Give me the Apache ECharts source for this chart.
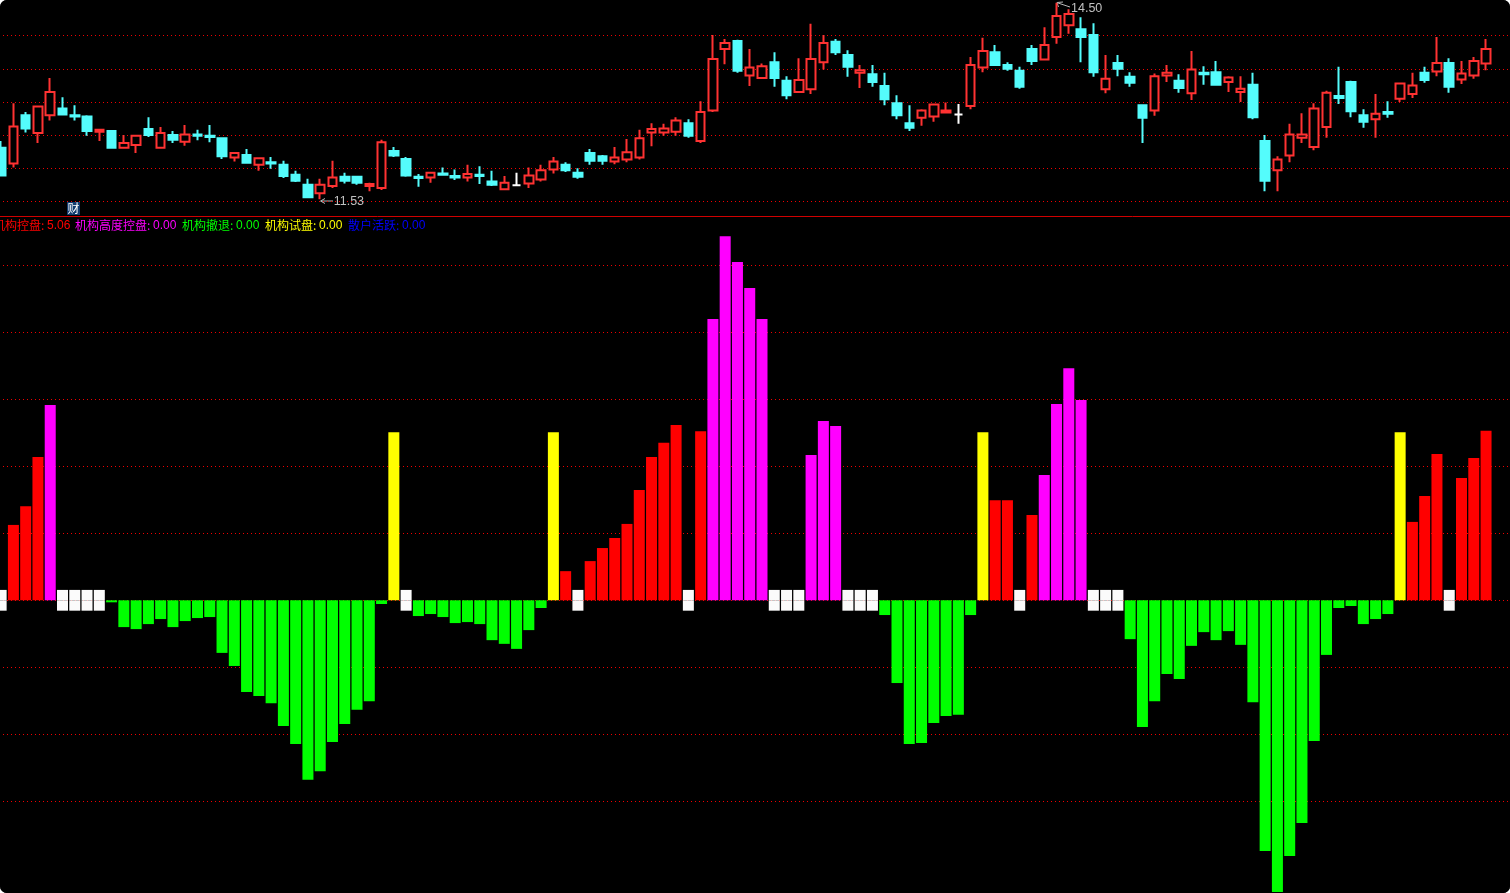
<!DOCTYPE html>
<html>
<head>
<meta charset="utf-8">
<style>
html,body{margin:0;padding:0;background:#fff;overflow:hidden}
#chart{width:1510px;height:893px;background:#000;border-radius:7px;overflow:hidden}
</style>
<script src="https://cdn.jsdelivr.net/npm/echarts@6/dist/echarts.min.js"></script>
</head>
<body>
<div id="chart"></div>
<script>
const opens = [12.31,12.07,12.80,12.53,12.80,12.90,12.80,12.78,12.55,12.56,
12.31,12.35,12.59,12.31,12.50,12.40,12.51,12.49,12.45,12.16,
12.20,12.05,12.09,12.05,11.90,11.75,11.62,11.73,11.87,11.87,
11.73,11.70,12.26,12.14,11.87,11.86,11.92,11.88,11.86,11.90,
11.80,11.68,11.74,11.77,11.83,11.98,12.05,11.93,12.23,12.18,
12.10,12.13,12.16,12.54,12.54,12.55,12.68,12.41,12.87,13.80,
13.92,13.40,13.36,13.60,13.32,13.15,13.19,13.60,13.91,13.71,
13.44,13.42,13.24,12.98,12.68,12.76,12.78,12.84,12.81,12.94,
13.52,13.75,13.56,13.47,13.80,13.64,13.98,14.16,14.10,14.01,
13.19,13.59,13.38,12.95,12.87,13.40,13.32,13.13,13.44,13.45,
13.30,13.15,13.26,12.41,11.97,12.19,12.46,12.32,12.62,13.09,
13.30,12.80,12.74,12.85,13.05,13.12,13.44,13.46,13.59,13.34,
13.40,13.58];
const closes = [11.89,12.63,12.60,12.93,13.15,12.81,12.78,12.56,12.58,12.31,
12.38,12.49,12.50,12.53,12.43,12.51,12.49,12.47,12.18,12.23,
12.08,12.15,12.07,11.88,11.81,11.56,11.75,11.86,11.81,11.78,
11.76,12.39,12.19,11.89,11.85,11.93,11.90,11.86,11.91,11.88,
11.75,11.78,11.74,11.89,11.97,12.10,11.97,11.87,12.11,12.11,
12.16,12.24,12.45,12.59,12.60,12.72,12.49,12.85,13.65,13.89,
13.47,13.52,13.54,13.36,13.10,13.33,13.65,13.89,13.75,13.53,
13.48,13.30,13.04,12.80,12.61,12.87,12.96,12.87,12.81,13.56,
13.77,13.56,13.50,13.23,13.62,13.86,14.30,14.33,13.98,13.45,
13.35,13.50,13.29,12.76,13.39,13.44,13.21,13.49,13.42,13.26,
13.37,13.20,12.77,11.81,12.13,12.51,12.51,12.90,13.14,13.06,
12.86,12.70,12.82,12.82,13.28,13.25,13.33,13.59,13.23,13.43,
13.62,13.80];
const lows = [11.88,12.01,12.54,12.38,12.72,12.81,12.72,12.49,12.41,12.30,
12.31,12.23,12.47,12.31,12.38,12.34,12.42,12.39,12.14,12.10,
12.08,11.96,11.99,11.85,11.79,11.56,11.53,11.70,11.77,11.75,
11.65,11.67,12.17,11.87,11.72,11.78,11.90,11.82,11.80,11.76,
11.73,11.68,11.74,11.70,11.80,11.92,11.94,11.84,12.05,12.05,
12.06,12.09,12.13,12.33,12.49,12.49,12.46,12.38,12.85,13.57,
13.44,13.24,13.36,13.23,13.04,13.15,13.12,13.49,13.71,13.38,
13.21,13.23,12.95,12.74,12.56,12.64,12.70,12.84,12.67,12.89,
13.45,13.56,13.47,13.20,13.56,13.64,13.88,14.03,13.60,13.38,
13.13,13.39,13.23,12.38,12.79,13.30,13.14,13.03,13.26,13.26,
13.15,13.00,12.74,11.65,11.65,12.09,12.38,12.27,12.46,12.97,
12.77,12.61,12.46,12.76,13.00,13.06,13.29,13.39,13.14,13.27,
13.35,13.48];
const highs = [12.41,12.98,12.85,12.93,13.36,13.07,12.95,12.80,12.59,12.56,
12.50,12.49,12.77,12.62,12.56,12.65,12.58,12.65,12.45,12.23,
12.29,12.16,12.17,12.11,11.96,11.84,11.84,12.11,11.93,11.87,
11.78,12.43,12.32,12.17,11.91,11.93,12.01,11.98,12.05,12.03,
11.96,11.88,11.93,12.01,12.05,12.17,12.09,12.00,12.29,12.20,
12.32,12.44,12.58,12.68,12.67,12.77,12.74,13.01,14.01,13.95,
13.94,13.80,13.58,13.75,13.39,13.66,14.18,14.01,13.95,13.78,
13.56,13.56,13.44,13.10,12.95,12.89,12.97,12.99,12.97,13.68,
13.97,13.86,13.60,13.53,13.86,14.13,14.50,14.40,14.28,14.19,
13.71,13.71,13.45,12.95,13.43,13.56,13.42,13.77,13.54,13.62,
13.39,13.39,13.44,12.50,12.18,12.67,12.83,12.98,13.17,13.53,
13.32,12.89,13.12,13.01,13.28,13.44,13.53,13.98,13.66,13.62,
13.68,13.95];
const whiteCandles = [42, 78];
const priceTicks = [11.5,12,12.5,13,13.5,14];
const flowTicks = [-6,-4,-2,0,2,4,6,8,10];

const flowValues = [0.31,2.25,2.81,4.28,5.83,0.31,0.31,0.31,0.31,-0.06,
-0.80,-0.86,-0.71,-0.56,-0.80,-0.62,-0.53,-0.50,-1.57,-1.96,
-2.74,-2.86,-3.07,-3.75,-4.29,-5.36,-5.10,-4.23,-3.69,-3.27,
-3.01,-0.11,5.02,0.31,-0.47,-0.41,-0.50,-0.68,-0.65,-0.71,
-1.19,-1.30,-1.45,-0.89,-0.23,5.02,0.87,0.31,1.17,1.56,
1.86,2.28,3.29,4.28,4.70,5.23,0.31,5.05,8.40,10.87,
10.10,9.32,8.40,0.31,0.31,0.31,4.34,5.35,5.20,0.31,
0.31,0.31,-0.44,-2.47,-4.29,-4.26,-3.66,-3.45,-3.42,-0.44,
5.02,2.99,2.99,0.31,2.55,3.74,5.86,6.93,5.98,0.31,
0.31,0.31,-1.16,-3.78,-3.01,-2.20,-2.35,-1.36,-0.95,-1.19,
-0.92,-1.33,-3.04,-7.48,-8.71,-7.63,-6.65,-4.20,-1.63,-0.23,
-0.17,-0.71,-0.56,-0.41,5.02,2.34,3.11,4.37,0.31,3.65,
4.25,5.06];
// r 机构控盘, m 机构高度控盘, g 机构撤退, y 机构试盘, w neutral
const flowKinds = ("wrrrmwwwwg"+"gggggggggg"+"gggggggggg"+"ggywgggggg"+"gggggyrwrr"+
"rrrrrrwrmm"+"mmmwwwmmmw"+"wwgggggggg"+"yrrwrmmmmw"+"wwgggggggg"+
"gggggggggg"+"ggggyrrrwr"+"rr").split("");

const legendNames = ["机构控盘","机构高度控盘","机构撤退","机构试盘","散户活跃"];
const legendValues = ["5.06","0.00","0.00","0.00","0.00"];
const legendColors = ["#ff0000","#ff00ff","#00ff00","#ffff00","#0000ff"];
const highMark = {index:86, value:14.50};
const lowMark = {index:26, value:11.53};

const RED="#ff3232", CYAN="#54fcfc", DOT="#f00000";
const slot = 12.272, gridLeft = -5, slots = 124;
const cats = Array.from({length:slots},(_,i)=>String(i));

const candleData = opens.map((o,i)=>{
  const item = {value:[o,closes[i],lows[i],highs[i]]};
  if (whiteCandles.includes(i)) item.itemStyle = {color:"#fff",color0:"#fff",borderColor:"#fff",borderColor0:"#fff"};
  return item;
});
const bar = (kind,color,sign)=>({
  type:"bar",xAxisIndex:1,yAxisIndex:1,barWidth:11,barGap:"-100%",z:3,silent:true,animation:false,
  itemStyle:{color},
  data:flowValues.map((v,i)=>flowKinds[i]===kind?v*sign:null)
});

// legend strip
const legendX = [[-7,47],[75,153],[182,236],[265,319],[348,402]];
const graphics = [
  {type:"line",shape:{x1:0,y1:216.5,x2:1510,y2:216.5},style:{stroke:"#d00000",lineWidth:1},silent:true},
  {type:"rect",shape:{x:67,y:202,width:13,height:13},style:{fill:"#123c6e"},silent:true},
  {type:"text",x:73.5,y:208.5,z:5,style:{text:"财",fill:"#ffffff",font:'12px "Noto Sans CJK SC"',align:"center",verticalAlign:"middle"},silent:true},
  {type:"polyline",shape:{points:[[321,201],[333,201]]},style:{stroke:"#b8b8b8",lineWidth:1,fill:null},silent:true},
  {type:"polyline",shape:{points:[[325,198.5],[320.5,201],[325,203.5]]},style:{stroke:"#b8b8b8",lineWidth:1,fill:null},silent:true},
  {type:"polyline",shape:{points:[[1058,3],[1070,7]]},style:{stroke:"#b8b8b8",lineWidth:1,fill:null},silent:true},
  {type:"polyline",shape:{points:[[1063,2],[1057,2.5],[1058.5,7]]},style:{stroke:"#b8b8b8",lineWidth:1,fill:null},silent:true}
];
legendNames.forEach((n,i)=>{
  graphics.push({type:"text",x:legendX[i][0],y:225,style:{text:n+":",fill:legendColors[i],font:'12px "Noto Sans CJK SC"',verticalAlign:"middle"},silent:true});
  graphics.push({type:"text",x:legendX[i][1],y:226,style:{text:legendValues[i],fill:legendColors[i],font:'12px "Liberation Sans"',verticalAlign:"middle"},silent:true});
});

const chart = echarts.init(document.getElementById("chart"),null,{renderer:"canvas"});
chart.setOption({
  backgroundColor:"#000",
  animation:false,
  graphic:graphics,
  grid:[
    {left:gridLeft,width:slot*slots,top:0,height:234.35,outerBoundsMode:"none"},
    {left:gridLeft,width:slot*slots,top:218.4,height:676.7,outerBoundsMode:"none"}
  ],
  xAxis:[
    {type:"category",gridIndex:0,data:cats,show:false,boundaryGap:true},
    {type:"category",gridIndex:1,data:cats,show:false,boundaryGap:true}
  ],
  yAxis:[
    {type:"value",gridIndex:0,min:11,max:14.54,scale:true,axisLine:{show:false},axisLabel:{show:false},
     axisTick:{show:false,customValues:priceTicks},
     splitLine:{show:true,lineStyle:{color:DOT,width:1,type:[1,3],opacity:1}}},
    {type:"value",gridIndex:1,min:-8.8,max:11.4,axisLine:{show:false},axisLabel:{show:false},
     axisTick:{show:false,customValues:flowTicks},
     splitLine:{show:true,lineStyle:{color:DOT,width:1,type:[1,3],opacity:1}}}
  ],
  series:[
    {type:"candlestick",xAxisIndex:0,yAxisIndex:0,barWidth:9,z:3,silent:true,
     itemStyle:{color:"#000",color0:CYAN,borderColor:RED,borderColor0:CYAN,borderWidth:2,borderColorDoji:CYAN},
     data:candleData,
     markPoint:{symbol:"circle",symbolSize:0,silent:true,animation:false,
       label:{show:true,position:"right",distance:0,color:"#c0c0c0",fontFamily:"Liberation Sans",fontSize:12.5},
       data:[
         {coord:[highMark.index,highMark.value],label:{formatter:highMark.value.toFixed(2),offset:[14.5,5.5]}},
         {coord:[lowMark.index,lowMark.value],label:{formatter:lowMark.value.toFixed(2),offset:[13.5,2.5]}}
       ]}},
    bar("r","#ff0000",1),
    bar("m","#ff00ff",1),
    bar("g","#00ff00",1),
    bar("y","#ffff00",1),
    bar("w","#fbfbfb",1),
    bar("w","#fbfbfb",-1)
  ]
});
</script>
</body>
</html>
